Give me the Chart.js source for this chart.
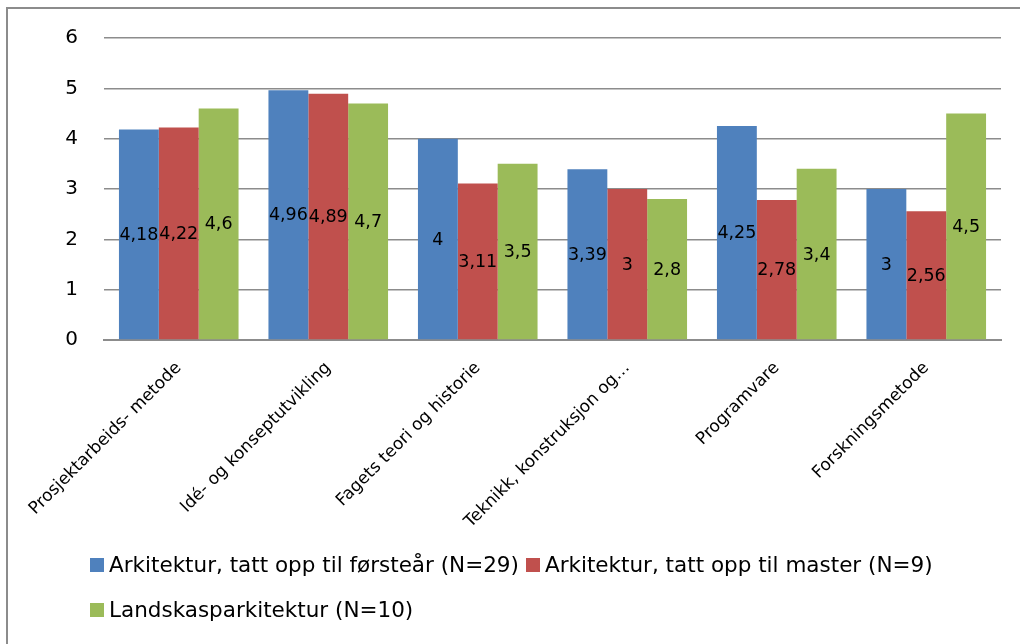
<!DOCTYPE html>
<html>
<head>
<meta charset="utf-8">
<script src="https://cdn.jsdelivr.net/npm/chart.js@4.4.1/dist/chart.umd.min.js"></script>
<style>
  html, body { margin: 0; padding: 0; background: #fff; overflow: hidden; }
  #wrap { position: relative; width: 1020px; height: 644px; overflow: hidden; }
  #frame {
    position: absolute; left: 6px; top: 7px; width: 1100px; height: 700px;
    border: 2px solid #8c8c8c; box-sizing: border-box;
  }
  #chart { position: absolute; left: 0; top: 0; }
  #legend {
    position: absolute; left: 90px; top: 552px; width: 900px;
    display: flex; flex-wrap: wrap; row-gap: 20px; column-gap: 7px;
    font-family: "DejaVu Sans", sans-serif; font-size: 21.5px; color: #000;
  }
  .item { display: flex; align-items: center; white-space: nowrap; line-height: 25px; }
  .box { width: 14px; height: 14px; margin-right: 5px; display: inline-block; }
</style>
</head>
<body>
<div id="wrap">
  <div id="frame"></div>
  <canvas id="chart" width="1020" height="644"></canvas>
  <div id="legend"></div>
</div>
<script>
const categories = [
  'Prosjektarbeids- metode',
  'Idé- og konseptutvikling',
  'Fagets teori og historie',
  'Teknikk, konstruksjon og…',
  'Programvare',
  'Forskningsmetode'
];
const seriesNames = [
  'Arkitektur, tatt opp til førsteår (N=29)',
  'Arkitektur, tatt opp til master (N=9)',
  'Landskasparkitektur (N=10)'
];
const førsteår = [4.18, 4.96, 4, 3.39, 4.25, 3];
const master = [4.22, 4.89, 3.11, 3, 2.78, 2.56];
const landskap = [4.6, 4.7, 3.5, 2.8, 3.4, 4.5];
const colors = ['#4F81BD', '#C0504D', '#9BBB59'];
const yTicks = [0, 1, 2, 3, 4, 5, 6];

const FONT = '"DejaVu Sans", sans-serif';

// labels in the middle of each bar, decimal comma
const barLabels = {
  id: 'barLabels',
  afterDatasetsDraw(chart) {
    const c = chart.ctx;
    c.save();
    c.font = '17.5px ' + FONT;
    c.fillStyle = '#000';
    c.textAlign = 'center';
    c.textBaseline = 'middle';
    chart.data.datasets.forEach((ds, i) => {
      chart.getDatasetMeta(i).data.forEach((bar, j) => {
        const txt = String(ds.data[j]).replace('.', ',');
        c.fillText(txt, bar.x, (bar.y + bar.base) / 2 + 1);
      });
    });
    c.restore();
  }
};

const chart = new Chart(document.getElementById('chart').getContext('2d'), {
  type: 'bar',
  data: {
    labels: categories,
    datasets: [førsteår, master, landskap].map((d, i) => ({
      label: seriesNames[i],
      data: d,
      backgroundColor: colors[i],
      borderWidth: 0
    }))
  },
  options: {
    responsive: false,
    animation: false,
    categoryPercentage: 0.8,
    barPercentage: 1,
    layout: { padding: { top: 37, right: 19, left: 0, bottom: 0 } },
    plugins: {
      legend: { display: false },
      tooltip: { enabled: false }
    },
    scales: {
      x: {
        grid: { display: false, drawTicks: false },
        border: { color: '#8c8c8c', width: 2 },
        ticks: {
          color: '#000',
          font: { family: FONT, size: 17 },
          maxRotation: 45,
          minRotation: 45,
          padding: 18,
          autoSkip: false
        },
        afterFit: s => { s.height = 304; }
      },
      y: {
        min: 0,
        max: 6,
        afterBuildTicks: s => { s.ticks = yTicks.map(v => ({ value: v })); },
        grid: { color: '#8c8c8c', lineWidth: 1.5, drawTicks: false },
        border: { display: false },
        ticks: {
          color: '#000',
          font: { family: FONT, size: 20 },
          padding: 26
        },
        afterFit: s => { s.width = 104; }
      }
    }
  },
  plugins: [barLabels]
});

// legend built from the chart's datasets
const legend = document.getElementById('legend');
chart.data.datasets.forEach(ds => {
  const item = document.createElement('div');
  item.className = 'item';
  const box = document.createElement('span');
  box.className = 'box';
  box.style.background = ds.backgroundColor;
  item.appendChild(box);
  item.appendChild(document.createTextNode(ds.label));
  legend.appendChild(item);
});
</script>
</body>
</html>
